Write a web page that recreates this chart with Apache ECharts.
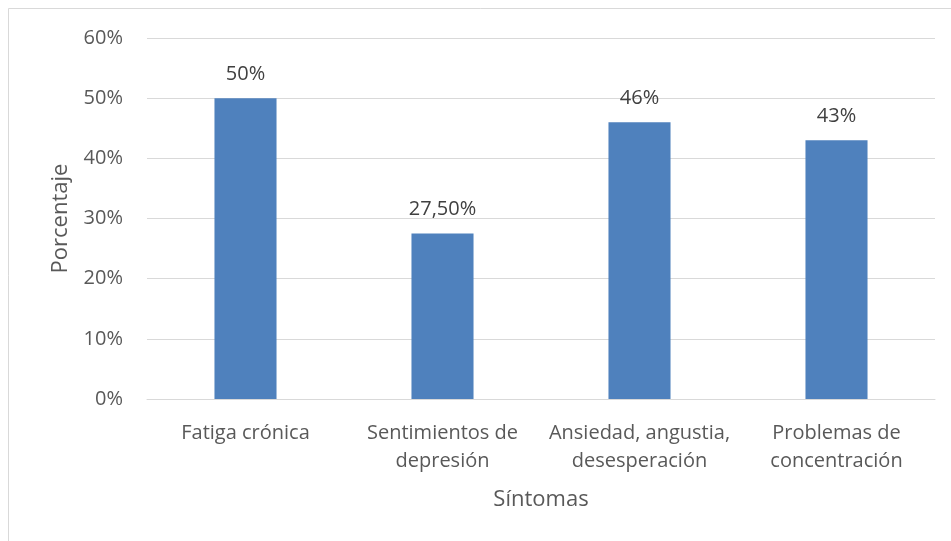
<!DOCTYPE html>
<html>
<head>
<meta charset="utf-8">
<script src="https://cdn.jsdelivr.net/npm/echarts@6/dist/echarts.min.js"></script>
<style>
  html, body { margin: 0; padding: 0; background: #fff; }
  #chart { width: 951px; height: 541px; }
</style>
</head>
<body>
<div id="chart"></div>
<script>
var categories = ['Fatiga crónica', 'Sentimientos de\ndepresión', 'Ansiedad, angustia,\ndesesperación', 'Problemas de\nconcentración'];
var values = [50, 27.5, 46, 43];
var valueLabels = ['50%', '27,50%', '46%', '43%'];

var font = '"Open Sans", "Noto Sans", sans-serif';

var chart = echarts.init(document.getElementById('chart'));
var option = {
    animation: false,
    backgroundColor: '#fff',
    textStyle: { fontFamily: font },
    graphic: [{
        type: 'rect',
        shape: { x: 8.5, y: 8.5, width: 1200, height: 1200 },
        style: { fill: 'none', stroke: '#d9d9d9', lineWidth: 1 },
        silent: true
    }],
    grid: { left: 147, right: 16, top: 38, bottom: 142 },
    xAxis: {
        type: 'category',
        data: categories,
        name: 'Síntomas',
        nameLocation: 'middle',
        nameGap: 90,
        nameTextStyle: { fontSize: 22, color: '#595959', fontFamily: font },
        axisTick: { show: false },
        axisLine: { lineStyle: { color: '#d9d9d9', width: 1 } },
        axisLabel: {
            interval: 0,
            margin: 20,
            fontSize: 20,
            lineHeight: 28,
            color: '#595959',
            fontFamily: font
        }
    },
    yAxis: {
        type: 'value',
        min: 0,
        max: 60,
        interval: 10,
        name: 'Porcentaje',
        nameLocation: 'middle',
        nameGap: 75,
        nameTextStyle: { fontSize: 22, color: '#595959', fontFamily: font },
        axisLine: { show: false },
        axisTick: { show: false },
        axisLabel: {
            margin: 24,
            fontSize: 20,
            color: '#595959',
            fontFamily: font,
            formatter: '{value}%'
        },
        splitLine: { lineStyle: { color: '#d9d9d9', width: 1 } }
    },
    series: [{
        type: 'bar',
        data: values,
        barWidth: '31.5%',
        itemStyle: { color: '#4f81bd' },
        label: {
            show: true,
            position: 'top',
            distance: 14,
            fontSize: 20,
            color: '#404040',
            fontFamily: font,
            formatter: function (p) { return valueLabels[p.dataIndex]; }
        }
    }]
};
chart.setOption(option);
</script>
</body>
</html>
